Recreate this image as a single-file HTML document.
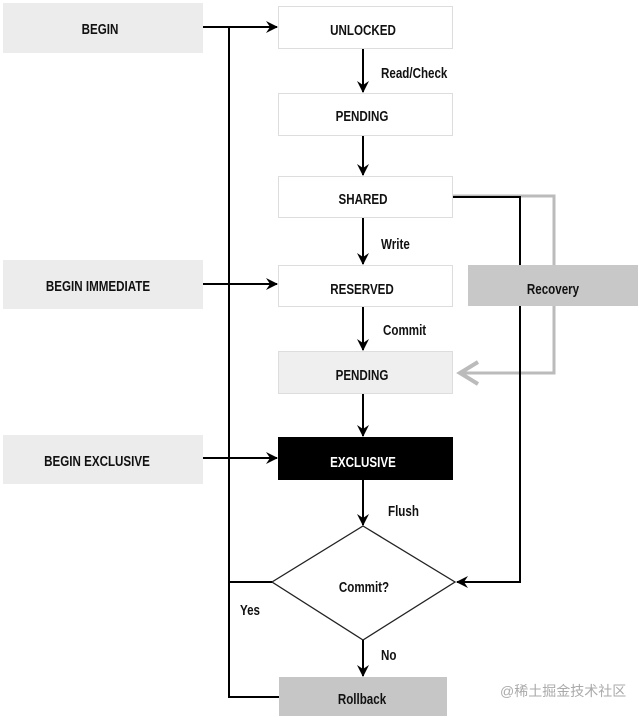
<!DOCTYPE html>
<html><head><meta charset="utf-8"><style>
html,body{margin:0;padding:0;background:#fff;}
svg text{font-family:"Liberation Sans",sans-serif;font-weight:bold;font-size:14.5px;fill:#111;}
</style></head><body>
<svg width="639" height="716" viewBox="0 0 639 716" xmlns="http://www.w3.org/2000/svg">
<defs>
<marker id="a" markerWidth="12" markerHeight="12" refX="11" refY="6" orient="auto" markerUnits="userSpaceOnUse"><path d="M0,0 L12,6 L0,12 L4,6 Z" fill="#000"/></marker>
</defs>
<rect x="3" y="3" width="200" height="50" fill="#ececec"/>
<rect x="3" y="260" width="200" height="49" fill="#ececec"/>
<rect x="3" y="435" width="200" height="49" fill="#ececec"/>
<rect x="278.5" y="6.5" width="174" height="42" fill="#fff" stroke="#ddd"/>
<rect x="278.5" y="93.5" width="174" height="42" fill="#fff" stroke="#ddd"/>
<rect x="278.5" y="176.5" width="174" height="41" fill="#fff" stroke="#ddd"/>
<rect x="278.5" y="265.5" width="174" height="41" fill="#fff" stroke="#ddd"/>
<rect x="278.5" y="351.5" width="174" height="42" fill="#efefef" stroke="#ddd"/>
<rect x="278" y="437" width="175" height="43" fill="#000"/>
<rect x="468" y="265" width="170" height="41" fill="#c8c8c8"/>
<rect x="279" y="677" width="168" height="40" fill="#c6c6c6"/>
<polygon points="363,526 455,582 363,640 272,582" fill="#fff" stroke="#222" stroke-width="1.3"/>
<polyline points="453,196 554,196 554,265" fill="none" stroke="#bbb" stroke-width="3"/>
<polyline points="554,306 554,373 462,373" fill="none" stroke="#bbb" stroke-width="3"/>
<polyline points="478,362 460,373 478,384" fill="none" stroke="#bbb" stroke-width="4"/>
<g stroke="#000" stroke-width="2" fill="none">
<line x1="203" y1="27" x2="277" y2="27" marker-end="url(#a)"/>
<line x1="203" y1="284" x2="277" y2="284" marker-end="url(#a)"/>
<line x1="203" y1="458" x2="277" y2="458" marker-end="url(#a)"/>
<polyline points="229,27 229,697 279,697"/>
<line x1="229" y1="582" x2="272" y2="582"/>
<line x1="363" y1="49" x2="363" y2="92" marker-end="url(#a)"/>
<line x1="363" y1="136" x2="363" y2="175" marker-end="url(#a)"/>
<line x1="363" y1="218" x2="363" y2="264" marker-end="url(#a)"/>
<line x1="363" y1="307" x2="363" y2="350" marker-end="url(#a)"/>
<line x1="363" y1="394" x2="363" y2="436" marker-end="url(#a)"/>
<line x1="363" y1="480" x2="363" y2="525" marker-end="url(#a)"/>
<line x1="363" y1="640" x2="363" y2="676" marker-end="url(#a)"/>
<polyline points="453,197 520,197 520,265"/>
<polyline points="520,306 520,582 457,582" marker-end="url(#a)"/>
</g>
<g>
<text transform="translate(100,34) scale(0.8,1)" text-anchor="middle">BEGIN</text>
<text transform="translate(98,291) scale(0.8,1)" text-anchor="middle">BEGIN IMMEDIATE</text>
<text transform="translate(97,466) scale(0.8,1)" text-anchor="middle">BEGIN EXCLUSIVE</text>
<text transform="translate(363,35) scale(0.8,1)" text-anchor="middle">UNLOCKED</text>
<text transform="translate(362,121) scale(0.8,1)" text-anchor="middle">PENDING</text>
<text transform="translate(363,204) scale(0.8,1)" text-anchor="middle">SHARED</text>
<text transform="translate(362,294) scale(0.8,1)" text-anchor="middle">RESERVED</text>
<text transform="translate(362,380) scale(0.8,1)" text-anchor="middle">PENDING</text>
<text transform="translate(363,467) scale(0.8,1)" text-anchor="middle" style="fill:#fff">EXCLUSIVE</text>
<text transform="translate(553,294) scale(0.8,1)" text-anchor="middle">Recovery</text>
<text transform="translate(362,704) scale(0.8,1)" text-anchor="middle">Rollback</text>
<text transform="translate(364,592) scale(0.8,1)" text-anchor="middle">Commit?</text>
<text transform="translate(381,78) scale(0.8,1)">Read/Check</text>
<text transform="translate(381,249) scale(0.8,1)">Write</text>
<text transform="translate(383,335) scale(0.8,1)">Commit</text>
<text transform="translate(388,516) scale(0.8,1)">Flush</text>
<text transform="translate(240,615) scale(0.8,1)">Yes</text>
<text transform="translate(381,660) scale(0.8,1)">No</text>
</g>
<text x="500" y="696" style="font-weight:normal;fill:#aaa;font-family:'Liberation Sans','Noto Sans CJK SC',sans-serif;font-size:14px">@稀土掘金技术社区</text>
</svg>
</body></html>
